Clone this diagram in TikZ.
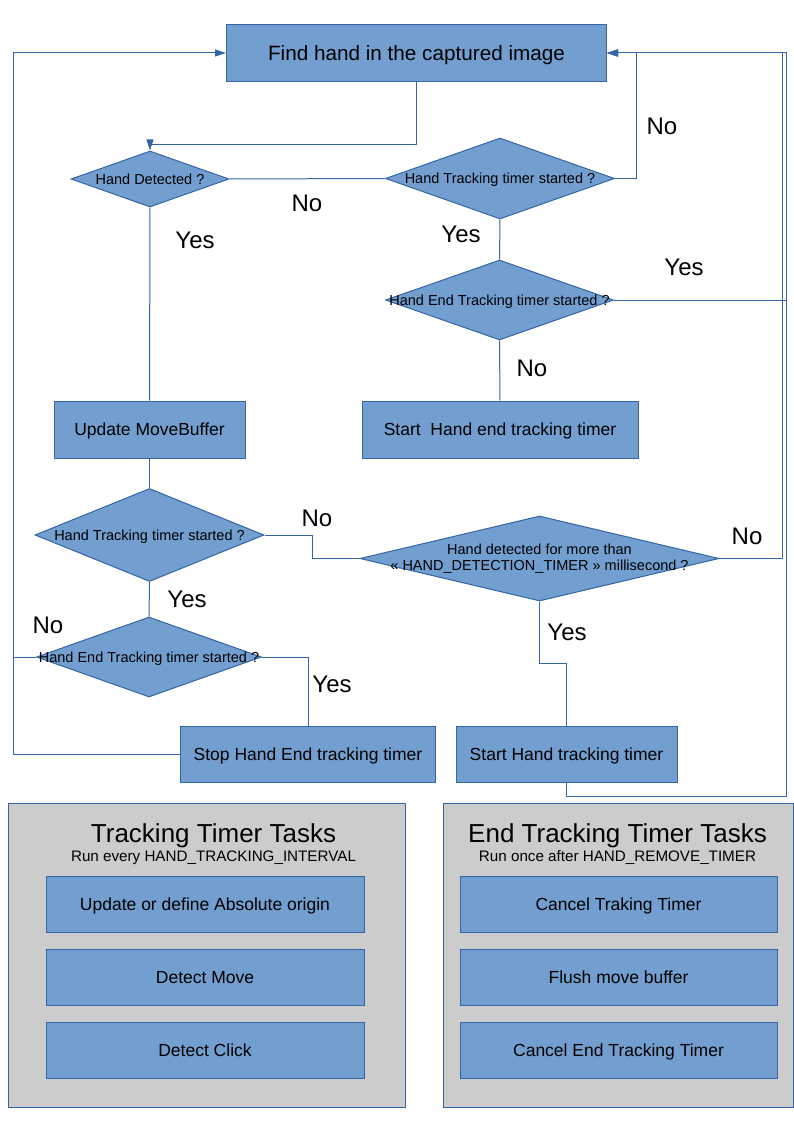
\documentclass[tikz,border=0pt]{standalone}
\usepackage{fontspec}
\setmainfont{Liberation Sans}
\usepackage{xcolor}
\usepackage{tikz}
\usetikzlibrary{arrows,arrows.meta,shapes.geometric,positioning}
\definecolor{boxblue}{HTML}{729FCF}
\definecolor{lineblue}{HTML}{3465A4}
\definecolor{panelgrey}{HTML}{CCCCCC}
\tikzset{
  procbox/.style={
    draw=lineblue,fill=boxblue,rectangle,line width=1pt,inner sep=0pt,
    text height=12.8pt,text depth=0pt,
    font=\fontsize{17.5}{20}\selectfont,
  },
  decision/.style={
    draw=lineblue,fill=boxblue,diamond,line width=1pt,inner sep=0pt,
    label={[font=\fontsize{14.5}{16.3}\selectfont,inner sep=0pt,text height=10.6pt,text depth=0pt]center:#1},
  },
  wide decision/.style={
    draw=lineblue,fill=boxblue,diamond,line width=1pt,inner sep=0pt,
    label={[font=\fontsize{14.5}{16.3}\selectfont,align=center,inner sep=0pt]center:#1},
  },
  flowline/.style={draw=lineblue,line width=1pt},
  answer/.style={font=\fontsize{24}{28}\selectfont,inner sep=0pt},
  panel/.style={draw=lineblue,fill=panelgrey,rectangle,line width=1pt},
  paneltitle/.style={font=\fontsize{26}{28}\selectfont,inner sep=0pt,anchor=base},
  panelsub/.style={font=\fontsize{15.2}{17}\selectfont,inner sep=0pt,anchor=base},
}

\begin{document}
\begin{tikzpicture}[x=1pt,y=-1pt,node distance=73pt,>={Triangle[length=11pt,width=7pt]}]
			\useasboundingbox (0,0) rectangle (794,1123);
			\coordinate (railL) at (13,0);
			\coordinate (railR1) at (782,0);
			\coordinate (railR2) at (786,0);
			% main loop
			\node[procbox,minimum width=380,minimum height=57,text height=15.2pt,font=\fontsize{20.7}{24}\selectfont] (find) at (416.5,53) {Find hand in the captured image};
			\node[decision={Hand Detected ?},minimum width=158,minimum height=56] (hd) at (150,179) {};
			\node[decision={Hand Tracking timer started ?},minimum width=229,minimum height=81] (hts1) at (500,178.5) {};
			\node[decision={Hand End Tracking timer started ?},minimum width=228,minimum height=80] (hets1) at (499.5,300) {};
			\node[procbox,minimum width=191,minimum height=57] (update) at (149.5,429.5) {Update MoveBuffer};
			\node[procbox,minimum width=276,minimum height=57] (startend) at (500,429.5) {Start\ \ Hand end tracking timer};
			\node[decision={Hand Tracking timer started ?},minimum width=229,minimum height=93] (hts2) at (149.5,535) {};
			\node[wide decision={Hand detected for more than\\« HAND\_DETECTION\_TIMER » millisecond ?},minimum width=359,minimum height=85] (hdt) at (539.5,558.5) {};
			\node[decision={Hand End Tracking timer started ?},minimum width=225,minimum height=80] (hets2) at (149,657) {};
			\node[procbox,minimum width=255,minimum height=56] (stop) at (308,754.5) {Stop Hand End tracking timer};
			\node[procbox,minimum width=221,minimum height=56] (starttrack) at (566.5,754.5) {Start Hand tracking timer};

			\draw[flowline,->] (find.south) -- ++(0,63) -| (hd.north);
			\draw[flowline] (hd.east) -- (hts1.west);
			\draw[flowline,->] (hts1.east) -- ++(21,0) |- (find.east);
			\draw[flowline] (hts1.south) -- (hets1.north);
			\draw[flowline] (hets1.east) -- (railR2 |- hets1.east);
			\draw[flowline] (hets1.south) -- (startend.north);
			\draw[flowline] (hd.south) -- (update.north);
			\draw[flowline] (update.south) -- (hts2.north);
			\draw[flowline] (hts2.east) -- ++(48,0) |- (hdt.west);
			\draw[flowline,->] (hdt.east) -| (railR1 |- find.east) -- (find.east);
			\draw[flowline] (hdt.south) -- ++(0,62) -| (starttrack.north);
			\draw[flowline,->] (starttrack.south) -- ++(0,13) -| (railR2 |- find.east) -- (find.east);
			\draw[flowline] (hts2.south) -- (hets2.north);
			\draw[flowline] (hets2.east) -| (stop.north);
			\draw[flowline] (hets2.west) -- (railL |- hets2.west);
			\draw[flowline,->] (stop.west) -| (railL |- find.west) -- (find.west);

			\node[answer] (no1) at (307,203) {No};
			\node[answer] (yes1) at (195,240) {Yes};
			\node[answer] (no2) at (662,126) {No};
			\node[answer] (yes2) at (461,234) {Yes};
			\node[answer] (yes3) at (684,267) {Yes};
			\node[answer] (no3) at (532,368) {No};
			\node[answer] (no4) at (317,518) {No};
			\node[answer] (no5) at (747,536) {No};
			\node[answer] (yes4) at (187,599) {Yes};
			\node[answer] (no6) at (48,625) {No};
			\node[answer] (yes5) at (567,632) {Yes};
			\node[answer] (yes6) at (332,684) {Yes};

			% timer tasks
			\node[panel,minimum width=397,minimum height=304] (trackpanel) at (206.5,955) {};
			\node[paneltitle] (tracktitle) at (213.5,842) {Tracking Timer Tasks};
			\node[panelsub] (tracksub) at (213.5,861.5) {Run every HAND\_TRACKING\_INTERVAL};
			\node[procbox,minimum width=318,minimum height=56] (task1) at (205,904) {Update or define Absolute origin};
			\node[procbox,minimum width=318,minimum height=56] (task2) [below of=task1] {Detect Move};
			\node[procbox,minimum width=318,minimum height=56] (task3) [below of=task2] {Detect Click};

			\node[panel,minimum width=349.5,minimum height=304] (endpanel) at (618.25,955) {};
			\node[paneltitle] (endtitle) at (617.5,842) {End Tracking Timer Tasks};
			\node[panelsub] (endsub) at (617.5,861.5) {Run once after HAND\_REMOVE\_TIMER};
			\node[procbox,minimum width=317,minimum height=56] (endtask1) at (618.5,904) {Cancel Traking Timer};
			\node[procbox,minimum width=317,minimum height=56] (endtask2) [below of=endtask1] {Flush move buffer};
			\node[procbox,minimum width=317,minimum height=56] (endtask3) [below of=endtask2] {Cancel End Tracking Timer};
		\end{tikzpicture}
\end{document}
